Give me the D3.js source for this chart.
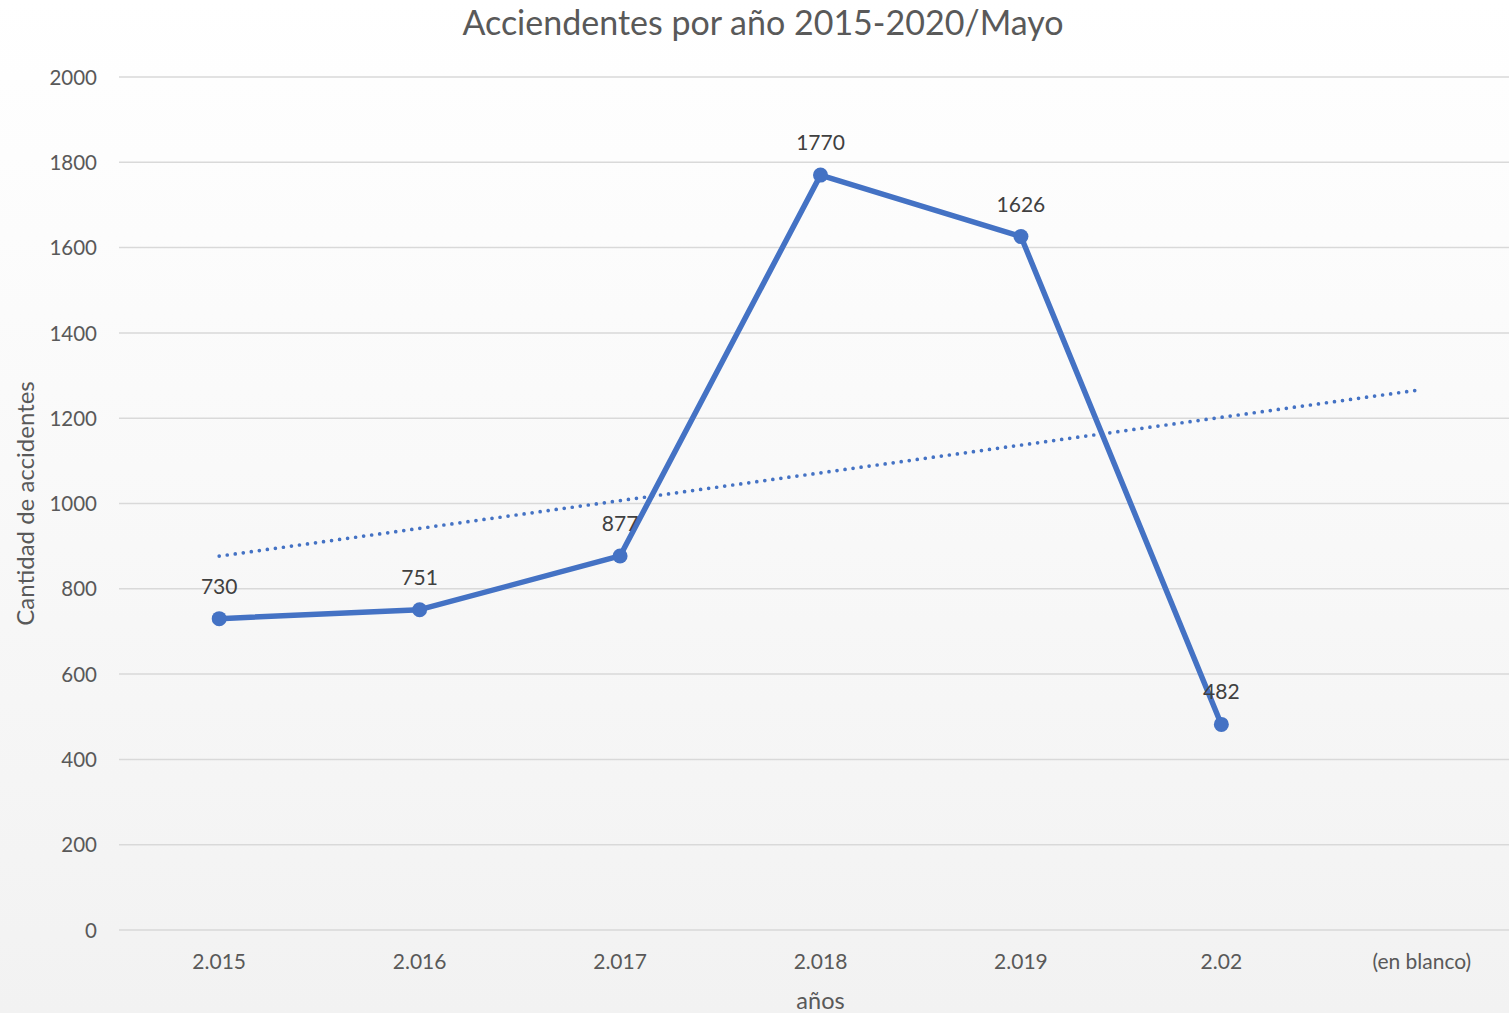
<!DOCTYPE html>
<html>
<head>
<meta charset="utf-8">
<script src="https://cdn.jsdelivr.net/npm/d3@7"></script>
<style>
  html, body { margin: 0; padding: 0; background: #fff; }
  svg { display: block; }
</style>
</head>
<body>
<svg id="chart" width="1509" height="1013"></svg>
<script>
// Accident counts per year (the last category holds no value)
const categories = ["2.015", "2.016", "2.017", "2.018", "2.019", "2.02", "(en blanco)"];
const values = [730, 751, 877, 1770, 1626, 482];
const yTicks = [0, 200, 400, 600, 800, 1000, 1200, 1400, 1600, 1800, 2000];
const titleText = "Acciendentes por año 2015-2020/Mayo";
const xTitle = "años";
const yTitle = "Cantidad de accidentes";

const W = 1509, H = 1013;
const svg = d3.select("#chart");
const font = "Lato, 'Open Sans', sans-serif";

// soft vertical background gradient
const defs = svg.append("defs");
const grad = defs.append("linearGradient").attr("id", "bg").attr("x1", 0).attr("y1", 0).attr("x2", 0).attr("y2", 1);
grad.append("stop").attr("offset", "0%").attr("stop-color", "#ffffff");
grad.append("stop").attr("offset", "100%").attr("stop-color", "#f2f2f2");
svg.append("rect").attr("width", W).attr("height", H).attr("fill", "url(#bg)");

const plot = { left: 119, right: 1522, top: 77, bottom: 930 };

const x = d3.scaleBand().domain(categories).range([plot.left, plot.right]).padding(0);
const cx = c => x(c) + x.bandwidth() / 2;
const y = d3.scaleLinear().domain([0, 2000]).range([plot.bottom, plot.top]);

// horizontal gridlines
svg.append("g").selectAll("line").data(yTicks).join("line")
  .attr("x1", plot.left).attr("x2", W)
  .attr("y1", d => y(d)).attr("y2", d => y(d))
  .attr("stroke", "#d9d9d9").attr("stroke-width", 1.5);

// y axis tick labels
const yAxis = d3.axisLeft(y).tickValues(yTicks).tickFormat(d3.format("d")).tickSize(0).tickPadding(0);
const gy = svg.append("g").attr("transform", `translate(97,0)`).call(yAxis);
gy.select(".domain").remove();
gy.selectAll("text").attr("font-family", font).attr("font-size", 20.5).attr("fill", "#595959")
  .attr("dy", "0.35em");

// x axis tick labels
const xAxis = d3.axisBottom(x).tickSize(0).tickPadding(0);
const gx = svg.append("g").attr("transform", `translate(0,${plot.bottom + 32})`).call(xAxis);
gx.select(".domain").remove();
gx.selectAll("text").attr("font-family", font).attr("font-size", 21).attr("fill", "#595959")
  .attr("dy", "0.35em");

// title
svg.append("text").attr("x", 763).attr("y", 35).attr("text-anchor", "middle")
  .attr("font-family", font).attr("font-size", 34).attr("fill", "#595959").text(titleText);

// axis titles
svg.append("text").attr("x", cx(categories[3])).attr("y", 1009).attr("text-anchor", "middle")
  .attr("font-family", font).attr("font-size", 23.5).attr("fill", "#595959").text(xTitle);
svg.append("text").attr("transform", `translate(34,${(plot.top + plot.bottom) / 2}) rotate(-90)`)
  .attr("text-anchor", "middle")
  .attr("font-family", font).attr("font-size", 24).attr("fill", "#595959").text(yTitle);

// linear trend over the year values, extended across all categories
const xs = values.map((_, i) => i + 1);
const mx = d3.mean(xs), my = d3.mean(values);
const slope = d3.sum(xs.map((xi, i) => (xi - mx) * (values[i] - my))) / d3.sum(xs.map(xi => (xi - mx) ** 2));
const intercept = my - slope * mx;
const trend = categories.map((c, i) => ({ c, v: intercept + slope * (i + 1) }));
svg.append("path")
  .attr("d", d3.line().x(d => cx(d.c)).y(d => y(d.v))([trend[0], trend[trend.length - 1]]))
  .attr("fill", "none").attr("stroke", "#4472c4").attr("stroke-width", 3.7)
  .attr("stroke-linecap", "round").attr("stroke-dasharray", "0 8.1");

// main series
const pts = values.map((v, i) => ({ c: categories[i], v }));
svg.append("path")
  .attr("d", d3.line().x(d => cx(d.c)).y(d => y(d.v))(pts))
  .attr("fill", "none").attr("stroke", "#4472c4").attr("stroke-width", 5.5)
  .attr("stroke-linejoin", "round");
svg.append("g").selectAll("circle").data(pts).join("circle")
  .attr("cx", d => cx(d.c)).attr("cy", d => y(d.v)).attr("r", 7.5)
  .attr("fill", "#4472c4");

// data labels
svg.append("g").selectAll("text").data(pts).join("text")
  .attr("x", d => cx(d.c)).attr("y", d => y(d.v) - 25)
  .attr("text-anchor", "middle")
  .attr("font-family", font).attr("font-size", 21).attr("fill", "#404040")
  .text(d => d.v);
</script>
</body>
</html>
